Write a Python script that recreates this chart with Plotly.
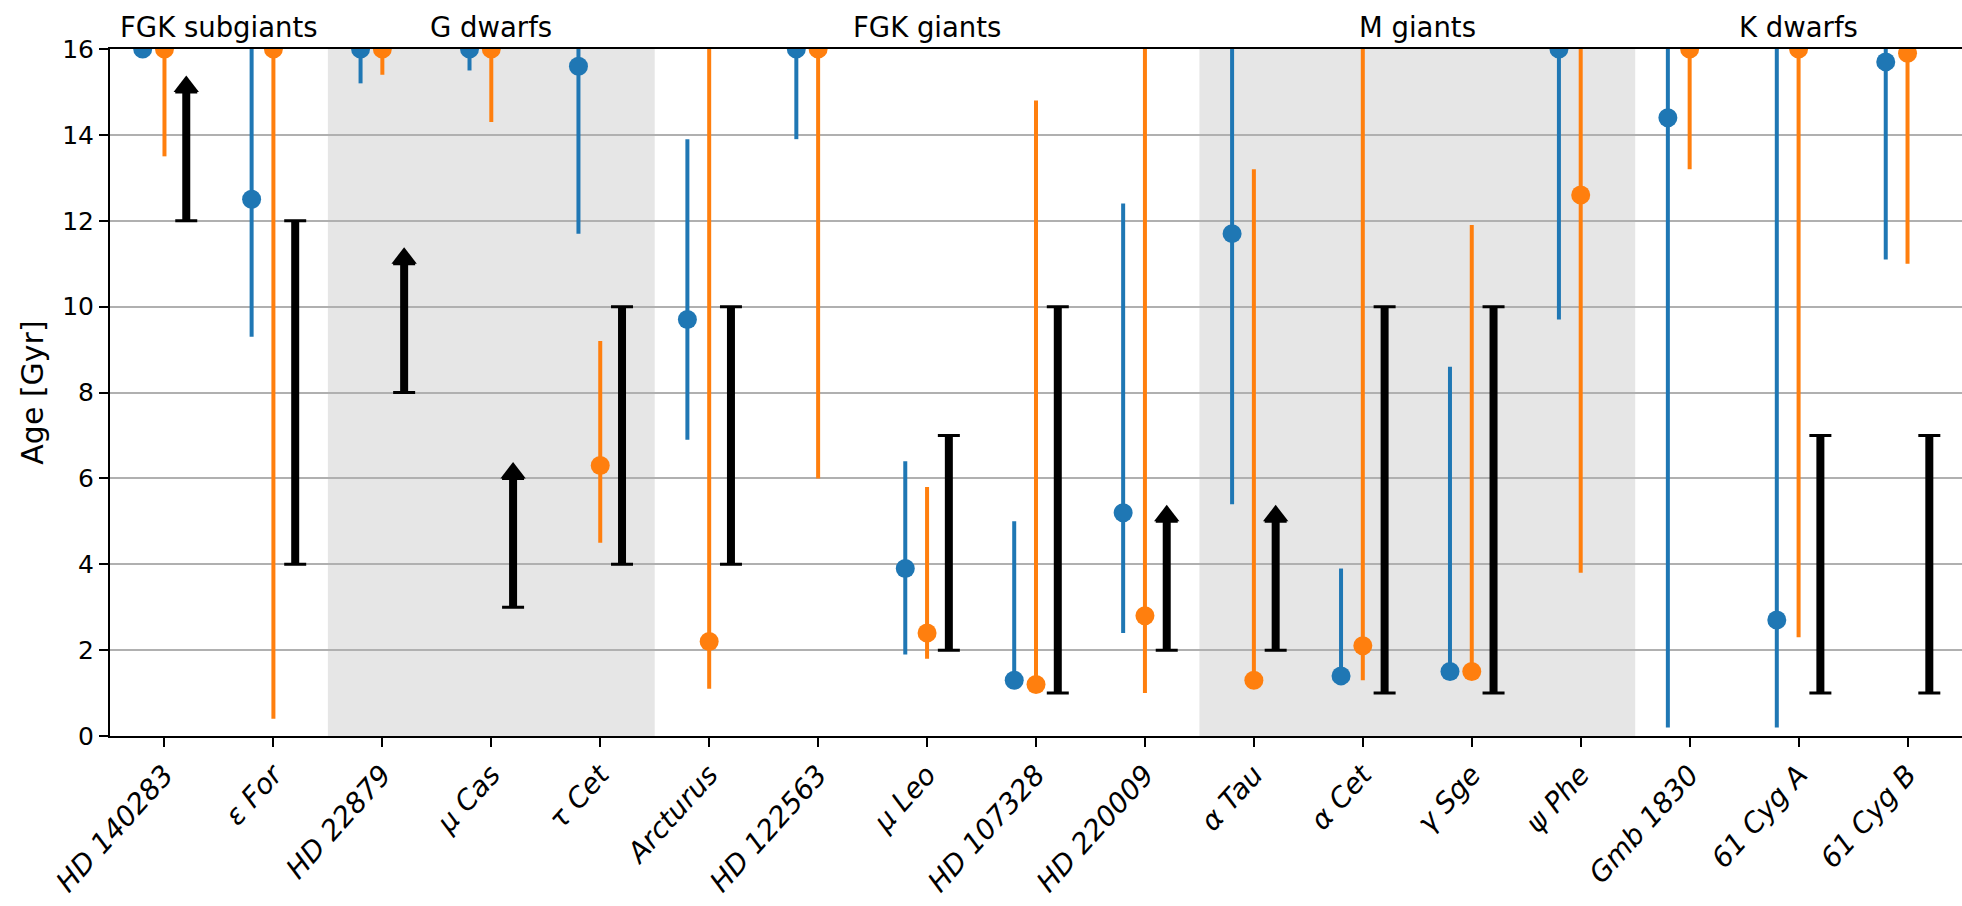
import plotly.graph_objects as go

# Stars, in plotting order
stars = ["HD 140283", "ε For", "HD 22879", "μ Cas", "τ Cet", "Arcturus",
         "HD 122563", "μ Leo", "HD 107328", "HD 220009", "α Tau", "α Cet",
         "γ Sge", "ψ Phe", "Gmb 1830", "61 Cyg A", "61 Cyg B"]

# Method 1 (blue): age and its lower / upper bounds [Gyr]
blue_age = [16.0, 12.5, 16.0, 16.0, 15.6, 9.7, 16.0, 3.9, 1.3, 5.2, 11.7, 1.4, 1.5, 16.0, 14.4, 2.7, 15.7]
blue_lo = [16.0, 9.3, 15.2, 15.5, 11.7, 6.9, 13.9, 1.9, 1.25, 2.4, 5.4, 1.35, 1.45, 9.7, 0.2, 0.2, 11.1]
blue_hi = [16.0, 18.0, 16.0, 16.0, 18.0, 13.9, 16.0, 6.4, 5.0, 12.4, 18.0, 3.9, 8.6, 16.0, 18.0, 18.0, 18.0]

# Method 2 (orange)
orange_age = [16.0, 16.0, 16.0, 16.0, 6.3, 2.2, 16.0, 2.4, 1.2, 2.8, 1.3, 2.1, 1.5, 12.6, 16.0, 16.0, 15.9]
orange_lo = [13.5, 0.4, 15.4, 14.3, 4.5, 1.1, 6.0, 1.8, 1.15, 1.0, 1.25, 1.3, 1.45, 3.8, 13.2, 2.3, 11.0]
orange_hi = [16.0, 16.0, 16.0, 16.0, 9.2, 18.0, 16.0, 5.8, 14.8, 18.0, 13.2, 18.0, 11.9, 18.0, 16.0, 16.0, 18.0]

# Literature age ranges (black) and lower limits (black arrows)
range_lo = [None, 4, None, None, 4, 4, None, 2, 1, None, None, 1, 1, None, None, 1, 1]
range_hi = [None, 12, None, None, 10, 10, None, 7, 10, None, None, 10, 10, None, None, 7, 7]
lower_limit = [12, None, 8, 3, None, None, None, None, None, 2, 2, None, None, None, None, None, None]

# Star groups: label, first index, last index, shaded
groups = [("FGK subgiants", 0, 1, False), ("G dwarfs", 2, 4, True),
          ("FGK giants", 5, 9, False), ("M giants", 10, 13, True),
          ("K dwarfs", 14, 16, False)]

BLUE = "#1f77b4"
ORANGE = "#ff7f0e"
FONT = "DejaVu Sans"
Y_MAX = 16
ARROW_LEN = 3.0

W, H = 1962, 906
M_L, M_R, M_T, M_B = 110, 0, 49, 170
px_per_unit = (H - M_T - M_B) / Y_MAX

idx = list(range(len(stars)))
fig = go.Figure()


def point_trace(offset, age, lo, hi, color):
    fig.add_trace(go.Scatter(
        x=[i + offset for i in idx], y=age, mode="markers",
        marker=dict(color=color, size=19),
        error_y=dict(type="data", symmetric=False,
                     array=[h - a for a, h in zip(age, hi)],
                     arrayminus=[a - l for a, l in zip(age, lo)],
                     color=color, thickness=4, width=0),
        showlegend=False, cliponaxis=True))


point_trace(-0.2, blue_age, blue_lo, blue_hi, BLUE)
point_trace(0.0, orange_age, orange_lo, orange_hi, ORANGE)

# Black ranges: thick shaft plus thin capped bar
rx = [i + 0.2 for i in idx if range_lo[i] is not None]
rlo = [range_lo[i] for i in idx if range_lo[i] is not None]
rspan = [range_hi[i] - range_lo[i] for i in idx if range_lo[i] is not None]
for th, wd in ((8, 0), (3, 11)):
    fig.add_trace(go.Scatter(
        x=rx, y=rlo, mode="markers", marker=dict(size=0.1, opacity=0),
        error_y=dict(type="data", symmetric=False, array=rspan,
                     arrayminus=[0] * len(rx), color="black", thickness=th, width=wd),
        showlegend=False, hoverinfo="skip"))

# Lower limits: capped shaft with an arrow head on top
lx = [i + 0.2 for i in idx if lower_limit[i] is not None]
llo = [lower_limit[i] for i in idx if lower_limit[i] is not None]
for th, wd in ((8, 0), (3, 11)):
    fig.add_trace(go.Scatter(
        x=lx, y=llo, mode="markers", marker=dict(size=0.1, opacity=0),
        error_y=dict(type="data", symmetric=False, array=[ARROW_LEN] * len(lx),
                     arrayminus=[0] * len(lx), color="black", thickness=th, width=wd),
        showlegend=False, hoverinfo="skip"))
head_size = 22
head_shift = (head_size / 4) / px_per_unit
fig.add_trace(go.Scatter(
    x=lx, y=[v + ARROW_LEN + head_shift for v in llo], mode="markers",
    marker=dict(symbol="triangle-up", size=head_size, color="black"),
    showlegend=False, hoverinfo="skip"))

shapes = []
annotations = []
for label, a, b, shaded in groups:
    if shaded:
        shapes.append(dict(type="rect", xref="x", yref="paper", x0=a - 0.5, x1=b + 0.5,
                           y0=0, y1=1, fillcolor="rgba(128,128,128,0.2)",
                           line=dict(width=0), layer="below"))
    annotations.append(dict(text=label, x=(a + b) / 2, xref="x", y=1, yref="paper",
                            xanchor="center", yanchor="bottom", yshift=4, showarrow=False,
                            font=dict(family=FONT, size=27.5, color="black")))

fig.update_layout(
    width=W, height=H,
    margin=dict(l=M_L, r=M_R, t=M_T, b=M_B),
    paper_bgcolor="white", plot_bgcolor="white",
    font=dict(family=FONT, color="black"),
    shapes=shapes, annotations=annotations,
    xaxis=dict(range=[-0.5, 16.5], tickmode="array", tickvals=idx,
               ticktext=["<i>%s</i>" % s for s in stars], tickangle=-48,
               tickfont=dict(family=FONT, size=28, color="black"), automargin=False,
               showgrid=False, zeroline=False, showline=True, mirror=True,
               linecolor="black", linewidth=2, ticks="outside", ticklen=9,
               tickwidth=2, tickcolor="black"),
    yaxis=dict(range=[0, Y_MAX], tickmode="array", tickvals=list(range(0, 17, 2)),
               tickfont=dict(family=FONT, size=25, color="black"), automargin=False,
               title=dict(text="Age [Gyr]", font=dict(family=FONT, size=30, color="black"),
                          standoff=10),
               showgrid=True, gridcolor="#b0b0b0", gridwidth=2, zeroline=False,
               showline=True, linecolor="black", linewidth=2, ticks="outside",
               ticklen=9, tickwidth=2, tickcolor="black"),
)

fig.write_html("out.html")
